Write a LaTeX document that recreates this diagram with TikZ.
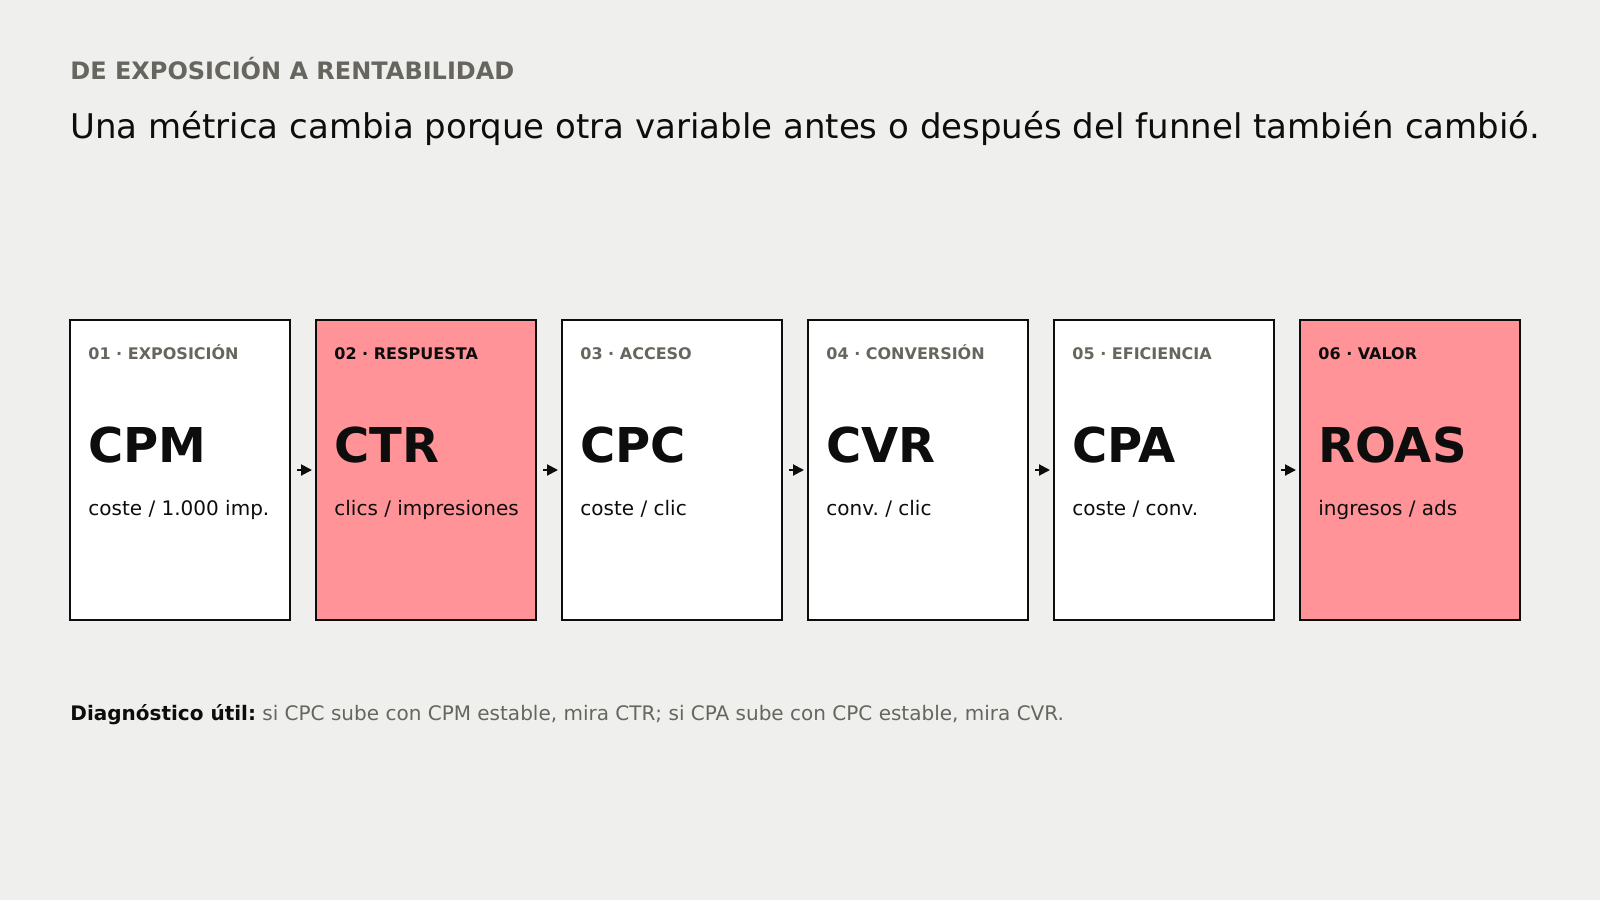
\documentclass[tikz,border=0pt]{standalone}
\usepackage{fontspec}
\setmainfont{DejaVu Sans}
\usetikzlibrary{arrows.meta}
\usetikzlibrary{positioning}
\frenchspacing

\definecolor{paper}{HTML}{EFEFED}
\definecolor{ink}{HTML}{0D0D0D}
\definecolor{muted}{HTML}{66665F}
\definecolor{blush}{HTML}{FF9397}

\tikzset{
  card/.style={draw=ink, line width=1pt, fill=white, minimum width=110pt, minimum height=150pt, inner sep=0pt},
  hot/.style={card, fill=blush},
  tag/.style={anchor=base west, inner sep=0pt, text=muted, font=\fontsize{8pt}{9pt}\selectfont\bfseries},
  hottag/.style={tag, text=ink},
  metric/.style={anchor=base west, inner sep=0pt, text=ink, font=\fontsize{24pt}{28pt}\selectfont\bfseries},
  ratio/.style={anchor=base west, inner sep=0pt, text=ink, font=\fontsize{10pt}{12pt}\selectfont},
  flow/.style={draw=ink, line width=1pt, -{Triangle[length=5.5pt, width=5.5pt]}, shorten <=3pt, shorten >=1.5pt}
}

\begin{document}
\begin{tikzpicture}[x=0.5pt, y=-0.5pt]
\fill[paper] (0,0) rectangle (1600,900);
\useasboundingbox (0,0) rectangle (1600,900);
\node[anchor=base west, inner sep=0pt, text=muted, font=\fontsize{12pt}{14pt}\selectfont\bfseries] (kicker) at (70,79.5) {DE EXPOSICIÓN A RENTABILIDAD};
\node[anchor=base west, inner sep=0pt, text=ink, font=\fontsize{17pt}{20pt}\selectfont] (headline) at (70,138.5) {Una métrica cambia porque otra variable antes o después del funnel también cambió.};

\node[card] (cpm)  at (180,470)  {};
\node[hot]  (ctr)  at (426,470)  {};
\node[card] (cpc)  at (672,470)  {};
\node[card] (cvr)  at (918,470)  {};
\node[card] (cpa)  at (1164,470) {};
\node[hot]  (roas) at (1410,470) {};

\node[tag]    at (88,359)   {01 · EXPOSICIÓN};
\node[metric] at (88,462)   {CPM};
\node[ratio]  at (88,515)   {coste / 1.000 imp.};
\node[hottag] at (334,359)  {02 · RESPUESTA};
\node[metric] at (334,462)  {CTR};
\node[ratio]  at (334,515)  {clics / impresiones};
\node[tag]    at (580,359)  {03 · ACCESO};
\node[metric] at (580,462)  {CPC};
\node[ratio]  at (580,515)  {coste / clic};
\node[tag]    at (826,359)  {04 · CONVERSIÓN};
\node[metric] at (826,462)  {CVR};
\node[ratio]  at (826,515)  {conv. / clic};
\node[tag]    at (1072,359) {05 · EFICIENCIA};
\node[metric] at (1072,462) {CPA};
\node[ratio]  at (1072,515) {coste / conv.};
\node[hottag] at (1318,359) {06 · VALOR};
\node[metric] at (1318,462) {ROAS};
\node[ratio]  at (1318,515) {ingresos / ads};

\draw[flow] (cpm) -- (ctr);
\draw[flow] (ctr) -- (cpc);
\draw[flow] (cpc) -- (cvr);
\draw[flow] (cvr) -- (cpa);
\draw[flow] (cpa) -- (roas);

\node[anchor=base west, inner sep=0pt, font=\fontsize{10pt}{12pt}\selectfont] (note) at (70,720) {\textcolor{ink}{\bfseries Diagnóstico útil:} \textcolor{muted}{si CPC sube con CPM estable, mira CTR; si CPA sube con CPC estable, mira CVR.}};
\end{tikzpicture}
\end{document}
